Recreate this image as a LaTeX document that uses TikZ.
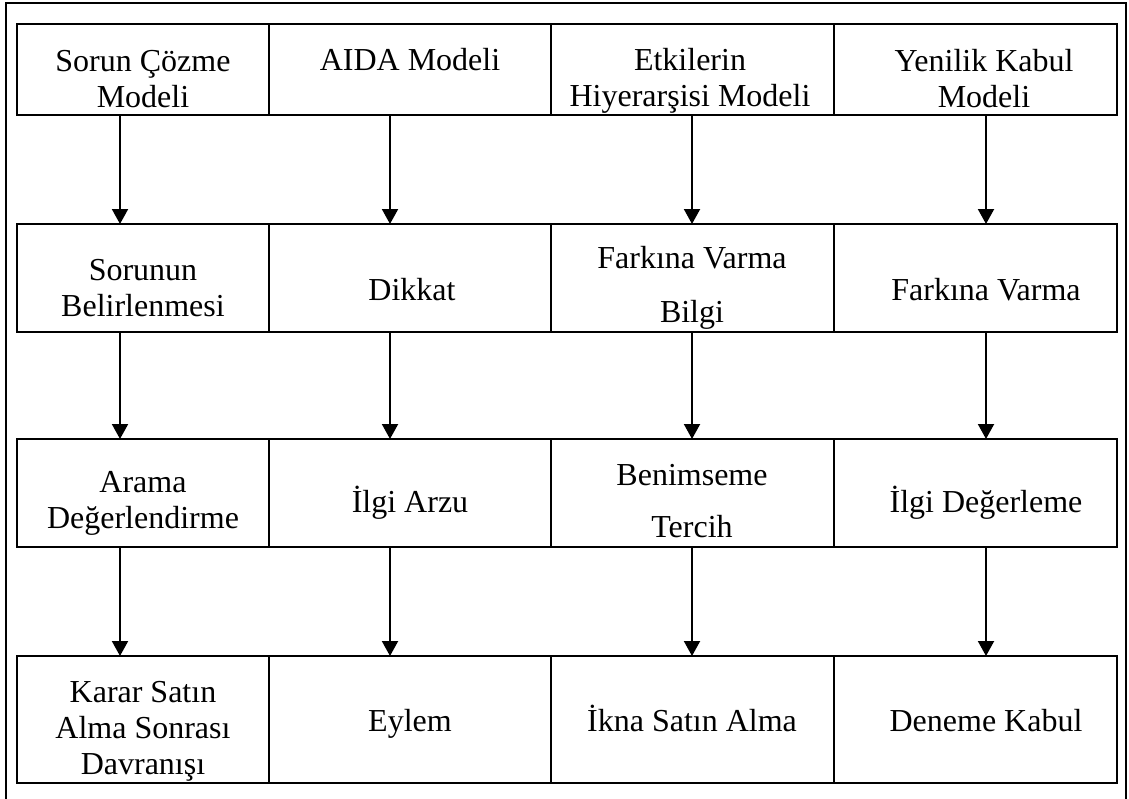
\documentclass[tikz,border=0pt]{standalone}
\usepackage{fontspec}
\setmainfont{Liberation Serif}
\usetikzlibrary{arrows.meta}
\begin{document}
\begin{tikzpicture}[x=1pt,y=-1pt,
  cell/.style={draw, line width=2pt, inner sep=0pt, outer sep=0pt},
  txt/.style={font=\fontsize{32}{36}\selectfont, align=center, inner sep=0pt},
  arr/.style={line width=2pt, -{Triangle[width=16pt,length=15pt]}},
  frame/.style={draw, line width=2pt, inner sep=0pt, outer sep=0pt}]
\useasboundingbox (0,0) rectangle (1129,798);
\clip (0,0) rectangle (1129,798);
\node[frame, minimum width=1120pt, minimum height=830pt, anchor=north west] (outer) at (6,3) {};
% cells
\foreach \r/\t/\b in {1/24/115, 2/224/332, 3/439/547, 4/656/783}{
  \foreach \c/\l/\rr in {1/17/269, 2/269/551, 3/551/834, 4/834/1117}{
    \node[cell, minimum width={(\rr-\l)*1pt}, minimum height={(\b-\t)*1pt}]
      (r\r-\c) at ({(\l+\rr)/2},{(\t+\b)/2}) {};
  }
}
% arrows
\foreach \c/\x in {1/120, 2/390, 3/692, 4/986}{
  \coordinate (a\c) at (\x,0);
  \foreach \r/\n in {1/2, 2/3, 3/4}{
    \draw[arr] (r\r-\c.south -| a\c) -- (r\n-\c.north -| a\c);
  }
}
% row 1 texts
\node[txt] (t1-1) at (143,82.3) {\strut Sorun Çözme\\\strut Modeli};
\node[txt] (t1-2) at (410,62.8) {\strut AIDA Modeli};
\node[txt] (t1-3) at (690,81.3) {\strut Etkilerin\\\strut Hiyerarşisi Modeli};
\node[txt] (t1-4) at (984,82.3) {\strut Yenilik Kabul\\\strut Modeli};
% row 2 texts
\node[txt] (t2-1) at (143,291) {\strut Sorunun\\\strut Belirlenmesi};
\node[txt] (t2-2) at (412,293) {\strut Dikkat};
\node[txt] (t2-3) at (692,288) {\strut Farkına Varma\\[18pt]\strut Bilgi};
\node[txt] (t2-4) at (986,293) {\strut Farkına Varma};
% row 3 texts
\node[txt] (t3-1) at (143,503) {\strut Arama\\\strut Değerlendirme};
\node[txt] (t3-2) at (410,505) {\strut İlgi Arzu};
\node[txt] (t3-3) at (692,504) {\strut Benimseme\\[16pt]\strut Tercih};
\node[txt] (t3-4) at (986,505) {\strut İlgi Değerleme};
% row 4 texts
\node[txt] (t4-1) at (143,731) {\strut Karar Satın\\\strut Alma Sonrası\\\strut Davranışı};
\node[txt] (t4-2) at (410,724) {\strut Eylem};
\node[txt] (t4-3) at (692,724) {\strut İkna Satın Alma};
\node[txt] (t4-4) at (986,724) {\strut Deneme Kabul};
\end{tikzpicture}
\end{document}
